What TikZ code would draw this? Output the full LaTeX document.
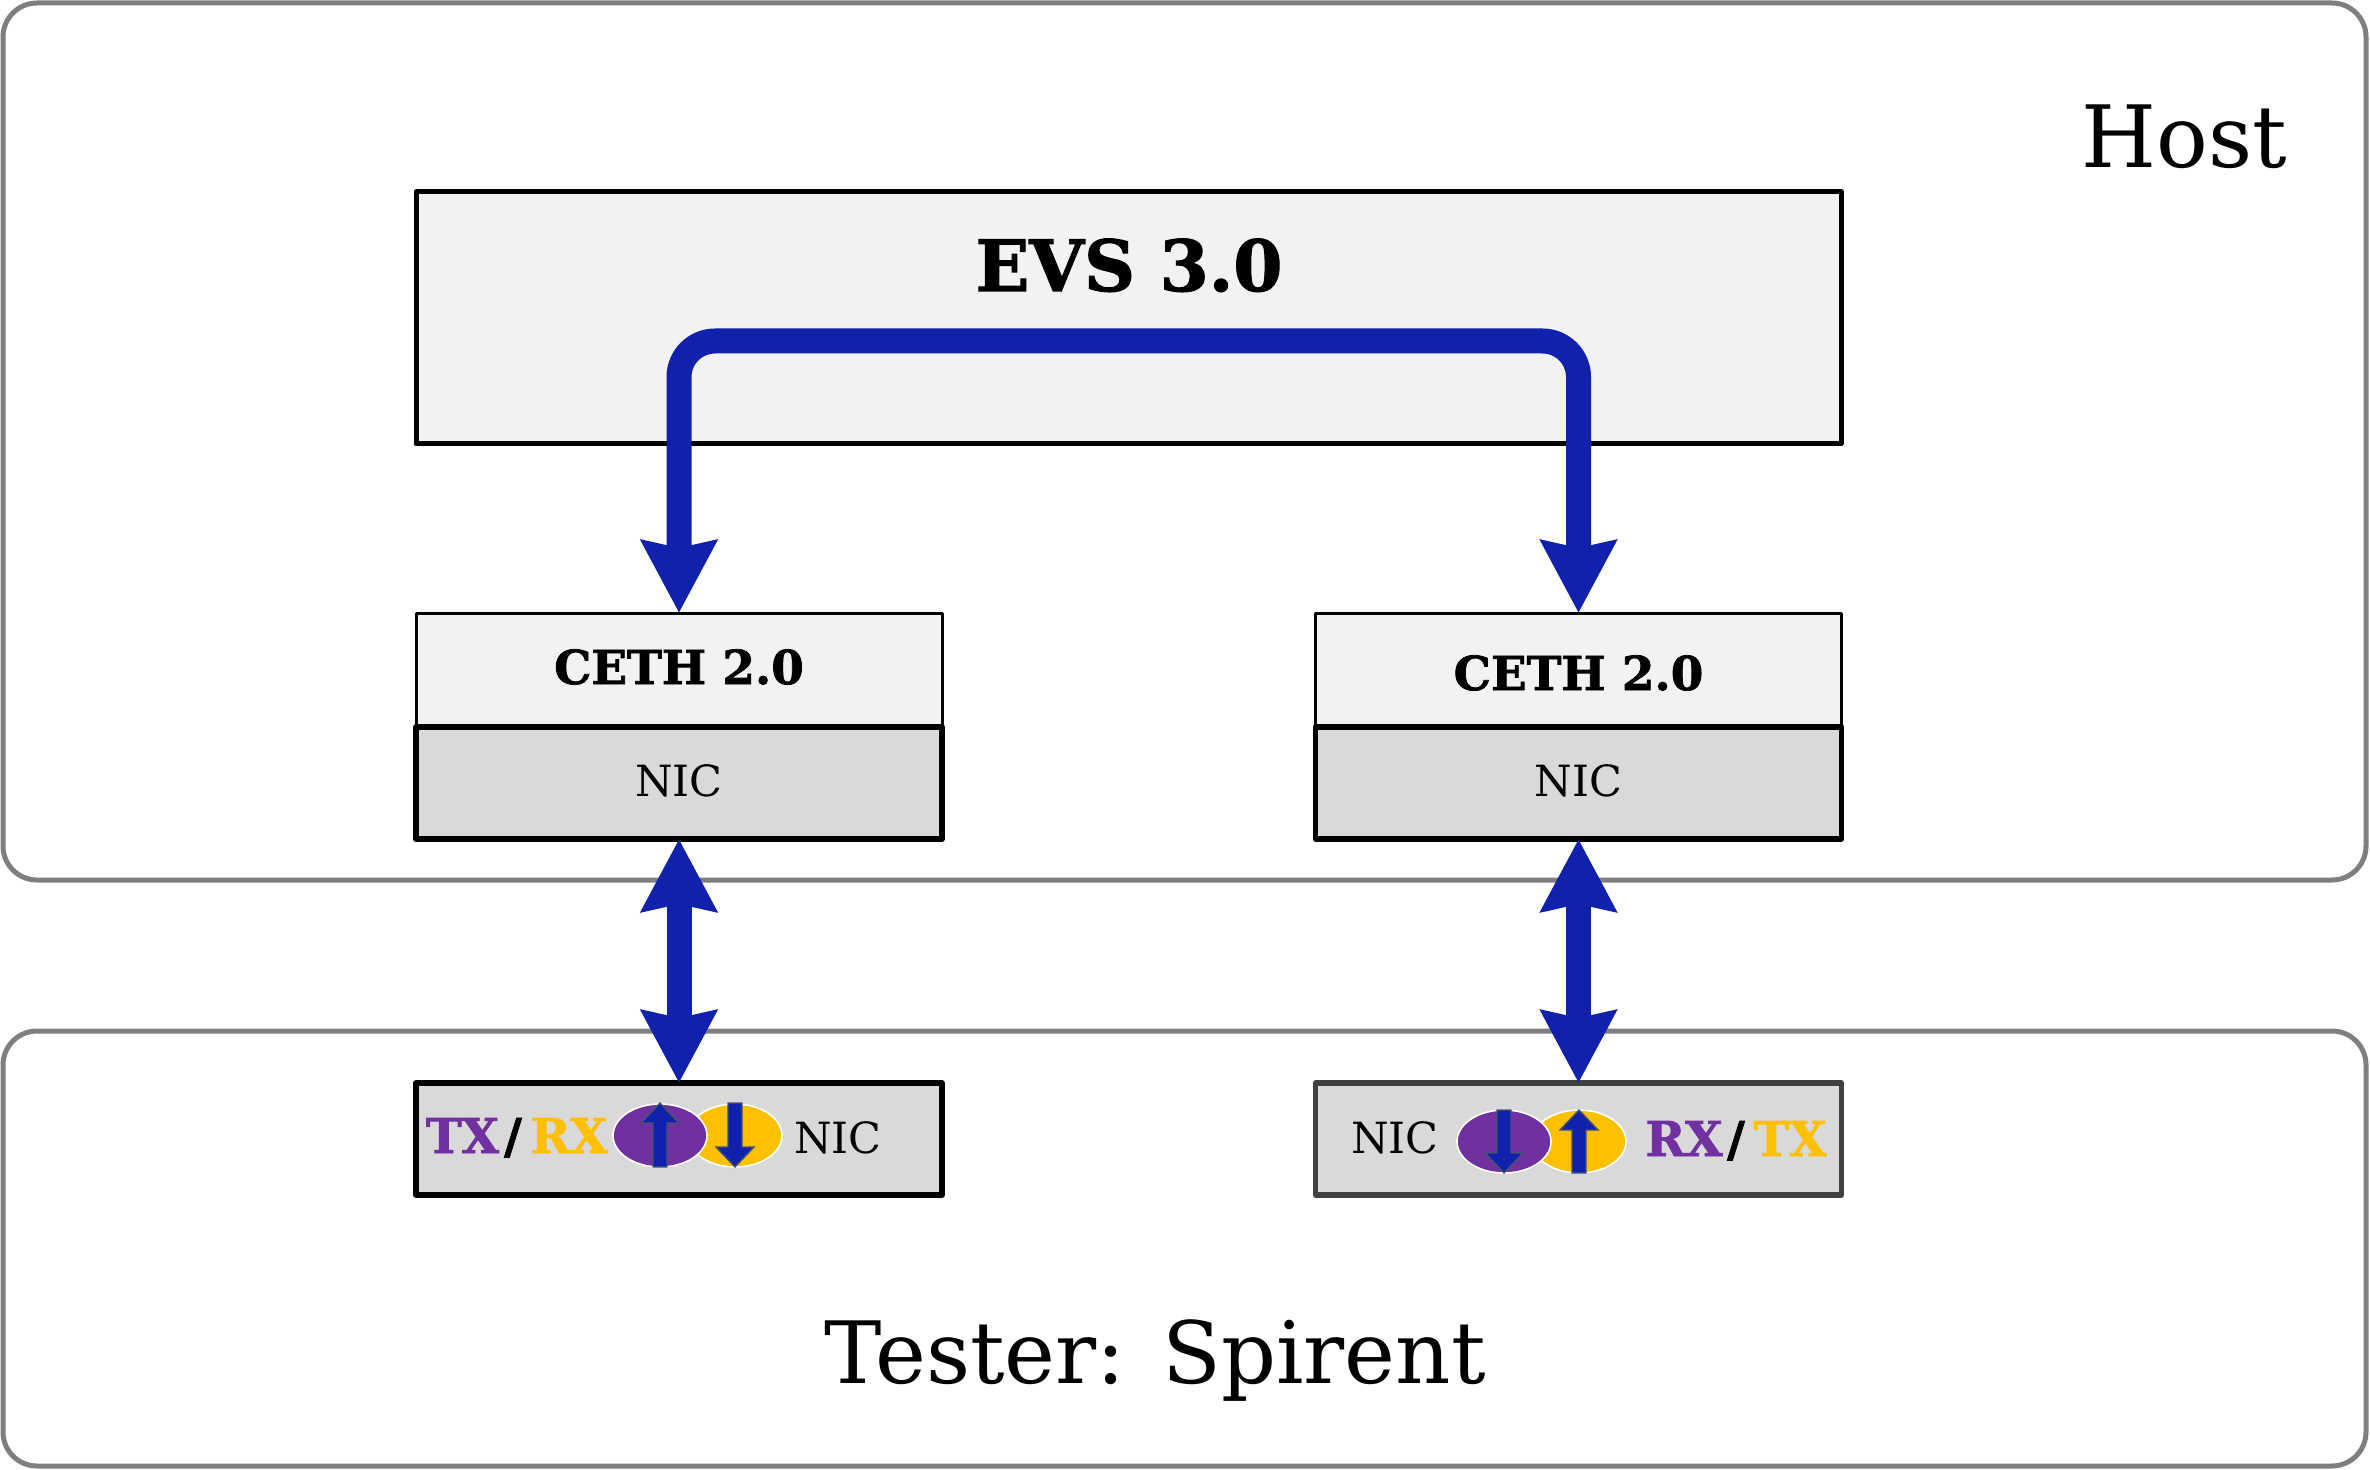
\documentclass[tikz,border=0pt]{standalone}
\usepackage{fontspec}
\setmainfont{DejaVu Serif}
\newfontfamily\heavyfont[FakeBold=1.6]{DejaVu Serif Bold}
\usetikzlibrary{arrows.meta,shapes.geometric}
\definecolor{flowblue}{HTML}{1021AB}
\definecolor{fillgray}{HTML}{F2F2F2}
\definecolor{nicgray}{HTML}{D9D9D9}
\definecolor{outer}{HTML}{7F7F7F}
\definecolor{txpurple}{HTML}{7030A0}
\definecolor{rxyellow}{HTML}{FFC000}
\definecolor{dark}{HTML}{404040}
\definecolor{slate}{HTML}{44546A}
\tikzset{
  px/.style={x=0.5pt,y=-0.5pt},
  group/.style={draw=outer,line width=2.5pt,rounded corners=17pt,inner sep=0pt,fill=white},
  box/.style={draw=black,inner sep=0pt,outer sep=0pt,line join=round,minimum width=263pt},
  ceth/.style={box,fill=fillgray,line width=1.5pt,minimum height=57pt},
  nic/.style={box,fill=nicgray,line width=2.7pt,minimum height=56pt},
  txt/.style={inner sep=0pt,anchor=base},
  nictxt/.style={txt,font=\fontsize{21.5}{26}\selectfont},
  port/.style={txt,font=\heavyfont\fontsize{24}{28}\selectfont},
  cethtxt/.style={txt,font=\heavyfont\fontsize{23.4}{28}\selectfont},
  flow/.style={draw=flowblue,line width=12.5pt,
     {Stealth[length=36pt,width=37pt,inset=3.5pt]}-{Stealth[length=36pt,width=37pt,inset=3.5pt]}},
  disc/.style={ellipse,draw=white,line width=0.8pt,minimum width=47pt,minimum height=31.5pt,inner sep=0pt},
}
\newcommand{\blockup}[3]{% x, tip y, tail y
  \fill[flowblue,draw=slate,line width=0.7pt,line join=miter]
    (#1,#2) -- (#1+19,#2+20) -- (#1+7,#2+20) -- (#1+7,#3) -- (#1-7,#3)
    -- (#1-7,#2+20) -- (#1-19,#2+20) -- cycle;}
\newcommand{\blockdown}[3]{% x, tip y, tail y
  \fill[flowblue,draw=slate,line width=0.7pt,line join=miter]
    (#1,#2) -- (#1+19,#2-20) -- (#1+7,#2-20) -- (#1+7,#3) -- (#1-7,#3)
    -- (#1-7,#2-20) -- (#1-19,#2-20) -- cycle;}
\begin{document}
\begin{tikzpicture}[px]
\useasboundingbox (0,0) rectangle (2370,1470);
\node[group,minimum width=1181.5pt,minimum height=438.5pt] (host) at (1184.5,441.5) {};
\node[group,minimum width=1181.5pt,minimum height=217.5pt] (tester) at (1184.5,1248.5) {};
\node[box,fill=fillgray,line width=2.5pt,minimum width=712.5pt,minimum height=126pt] (evs) at (1128.5,318) {};
\node[txt,font=\heavyfont\fontsize{35.3}{42}\selectfont] (evstxt) at (1129,291) {EVS 3.0};
\node[ceth] (cethL) at (679,670) {};
\node[ceth] (cethR) at (1578.5,670) {};
\node[cethtxt] (cethLt) at (679,684) {CETH 2.0};
\node[cethtxt] (cethRt) at (1578.5,690) {CETH 2.0};
\node[nic] (nicL) at (679,783) {};
\node[nic] (nicR) at (1578.5,783) {};
\node[nictxt] (nicLt) at (679,796) {NIC};
\node[nictxt] (nicRt) at (1578.5,796) {NIC};
\node[nic] (tnicL) at (679,1139) {};
\node[nic,draw=dark] (tnicR) at (1578.5,1139) {};
\node[txt,font=\fontsize{43}{52}\selectfont] (hosttxt) at (2184,168) {Host};
\node[txt,font=\fontsize{43}{52}\selectfont] (testertxt) at (1155,1383) {Tester: Spirent};
\coordinate (bend) at (1128.5,341);
\draw[flow,rounded corners=18pt] (cethL.north) |- (bend) -| (cethR.north);
\draw[flow] (nicL.south) -- (tnicL.north);
\draw[flow] (nicR.south) -- (tnicR.north);
% left tester port
\node[port,text=txpurple] (txL) at (462.5,1153) {TX};
\node[port] (slL) at (513,1153) {/};
\node[port,text=rxyellow] (rxL) at (569,1153) {RX};
\node[disc,fill=rxyellow] (yL) at (735,1135.5) {};
\node[disc,fill=txpurple] (pL) at (660,1135.5) {};
\blockup{660}{1103}{1167}
\blockdown{735}{1167}{1103}
\node[nictxt] (tnicLt) at (838,1153) {NIC};
% right tester port
\node[nictxt] (tnicRt) at (1395,1153) {NIC};
\node[disc,fill=rxyellow] (yR) at (1579,1141.5) {};
\node[disc,fill=txpurple] (pR) at (1504,1141.5) {};
\blockdown{1504}{1173}{1110}
\blockup{1579}{1110}{1173}
\node[port,text=txpurple] (rxR) at (1684,1156) {RX};
\node[port] (slR) at (1736,1156) {/};
\node[port,text=rxyellow] (txR) at (1790,1156) {TX};
\end{tikzpicture}
\end{document}
